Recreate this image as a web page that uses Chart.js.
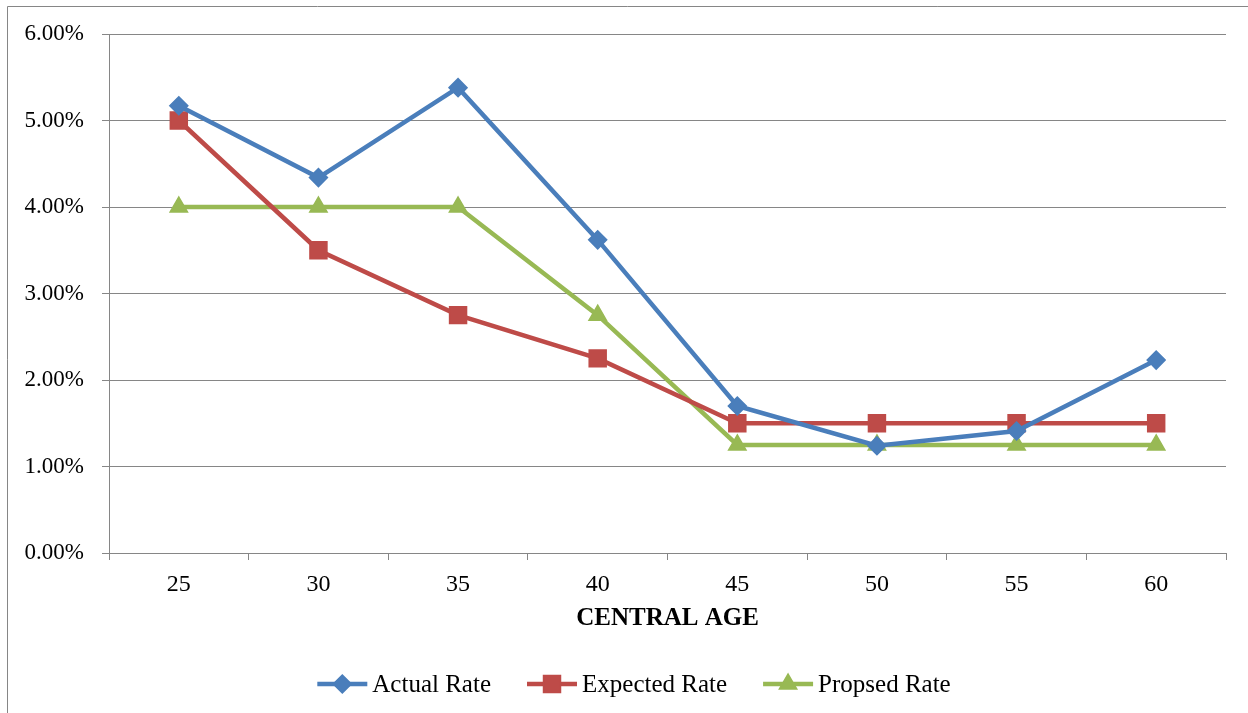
<!DOCTYPE html>
<html>
<head>
<meta charset="utf-8">
<script src="https://cdn.jsdelivr.net/npm/chart.js@4/dist/chart.umd.min.js"></script>
<style>
    html, body { margin: 0; padding: 0; background: #fff; }
    #wrap { width: 1248px; height: 713px; position: relative; }
</style>
</head>
<body>
<div id="wrap"><canvas id="rate-chart"></canvas></div>
<script>
const ages = ['25', '30', '35', '40', '45', '50', '55', '60'];
const actualRate = [5.17, 4.34, 5.38, 3.62, 1.70, 1.24, 1.41, 2.23];
const expectedRate = [5.00, 3.50, 2.75, 2.25, 1.50, 1.50, 1.50, 1.50];
const proposedRate = [4.00, 4.00, 4.00, 2.75, 1.25, 1.25, 1.25, 1.25];
const seriesNames = ['Actual Rate', 'Expected Rate', 'Propsed Rate'];

const serif = '"Liberation Serif", "Times New Roman", serif';
const axisGray = '#868686';

// legend drawn by hand: Excel style line with the marker in the middle
function drawMarker(ctx, style, r, x, y) {
    ctx.beginPath();
    if (style === 'rectRot') {
        ctx.moveTo(x, y - r); ctx.lineTo(x + r, y); ctx.lineTo(x, y + r); ctx.lineTo(x - r, y);
    } else if (style === 'rect') {
        const s = r * Math.SQRT1_2;
        ctx.rect(x - s, y - s, 2 * s, 2 * s);
    } else {
        const h = r * Math.sin(Math.PI / 3);
        ctx.moveTo(x, y - r); ctx.lineTo(x + h, y + r / 2); ctx.lineTo(x - h, y + r / 2);
    }
    ctx.closePath();
    ctx.fill();
    ctx.stroke();
}

const excelFrame = {
    id: 'excelFrame',
    beforeDraw(chart) {
        const ctx = chart.ctx;
        ctx.save();
        ctx.strokeStyle = axisGray;
        ctx.lineWidth = 1;
        ctx.beginPath();
        ctx.moveTo(7.5, chart.height);
        ctx.lineTo(7.5, 6.5);
        ctx.lineTo(chart.width, 6.5);
        ctx.stroke();
        ctx.restore();
    },
    afterDraw(chart) {
        const ctx = chart.ctx;
        const y = 684;
        const lineLen = 50, gapText = 5, gapItem = 36;
        ctx.save();
        ctx.font = '25px ' + serif;
        ctx.textBaseline = 'middle';
        const items = chart.data.datasets.map(ds => ({ ds, w: ctx.measureText(ds.label).width }));
        const total = items.reduce((s, it) => s + lineLen + gapText + it.w, 0) + gapItem * (items.length - 1);
        let x = 634 - total / 2;
        items.forEach(({ ds, w }) => {
            ctx.strokeStyle = ds.borderColor;
            ctx.lineWidth = ds.borderWidth;
            ctx.beginPath();
            ctx.moveTo(x, y);
            ctx.lineTo(x + lineLen, y);
            ctx.stroke();
            ctx.fillStyle = ds.pointBackgroundColor;
            ctx.strokeStyle = ds.pointBorderColor;
            ctx.lineWidth = ds.pointBorderWidth;
            drawMarker(ctx, ds.pointStyle, ds.pointRadius, x + lineLen / 2, y);
            ctx.fillStyle = '#000';
            ctx.fillText(ds.label, x + lineLen + gapText, y + 1);
            x += lineLen + gapText + w + gapItem;
        });
        ctx.restore();
    }
};

function series(label, data, color, pointStyle, radius) {
    return {
        label,
        data,
        borderColor: color,
        backgroundColor: color,
        borderWidth: 4.5,
        pointStyle,
        pointRadius: radius,
        pointHoverRadius: radius,
        pointBackgroundColor: color,
        pointBorderColor: color,
        pointBorderWidth: 1.5,
        tension: 0
    };
}

new Chart(document.getElementById('rate-chart'), {
    type: 'line',
    data: {
        labels: ages,
        datasets: [
            series(seriesNames[0], actualRate, '#4A7EBB', 'rectRot', 9),
            series(seriesNames[1], expectedRate, '#BE4B48', 'rect', 12),
            series(seriesNames[2], proposedRate, '#98B954', 'triangle', 10)
        ]
    },
    options: {
        responsive: true,
        maintainAspectRatio: false,
        animation: false,
        layout: { padding: { left: 0, right: 22, top: 34, bottom: 79 } },
        plugins: {
            legend: { display: false },
            tooltip: { enabled: false }
        },
        scales: {
            x: {
                type: 'category',
                offset: true,
                afterFit(scale) { scale.height = 81; },
                grid: {
                    offset: true,
                    drawOnChartArea: false,
                    drawTicks: true,
                    tickLength: 7,
                    color: axisGray
                },
                border: { color: axisGray, width: 1 },
                ticks: {
                    color: '#000',
                    padding: 10,
                    font: { family: serif, size: 24 }
                },
                title: {
                    display: true,
                    text: 'CENTRAL AGE',
                    color: '#000',
                    padding: 0,
                    font: { family: serif, size: 25, weight: 'bold' }
                }
            },
            y: {
                min: 0,
                max: 6,
                afterFit(scale) { scale.width = 109; },
                grid: {
                    color: axisGray,
                    tickLength: 7
                },
                border: { color: axisGray, width: 1 },
                ticks: {
                    stepSize: 1,
                    color: '#000',
                    padding: 18,
                    font: { family: serif, size: 23 },
                    callback: v => v.toFixed(2) + '%'
                }
            }
        }
    },
    plugins: [excelFrame]
});
</script>
</body>
</html>
